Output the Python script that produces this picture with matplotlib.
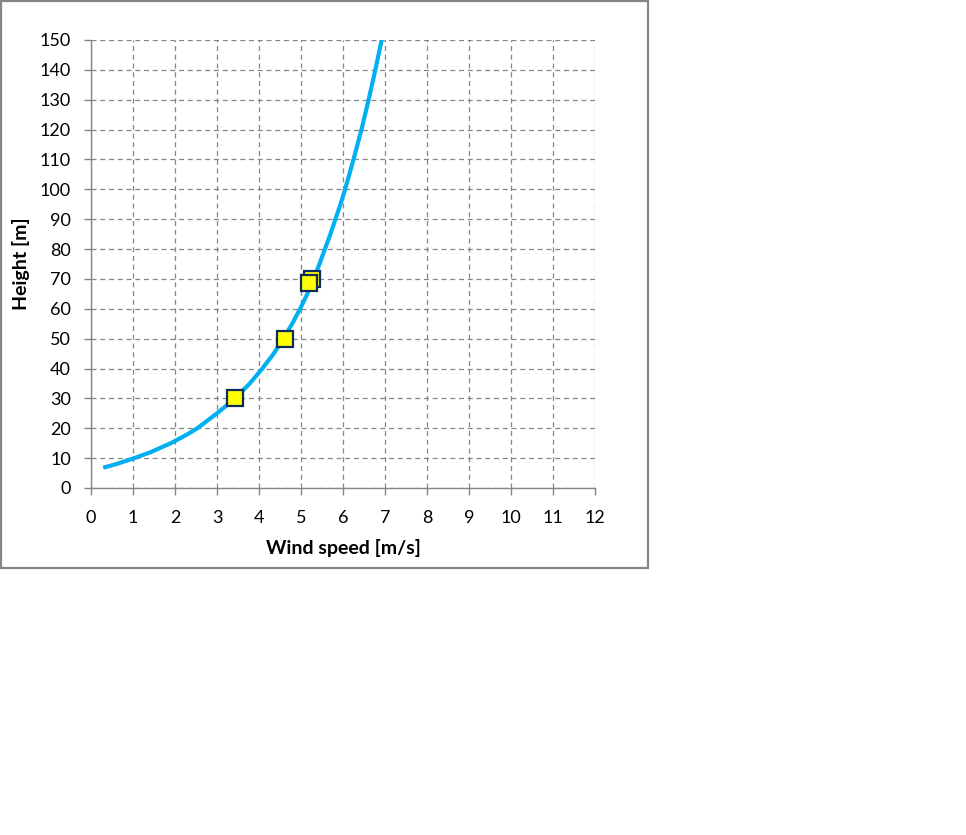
import matplotlib
matplotlib.use("Agg")
import matplotlib.pyplot as plt
from matplotlib.patches import Rectangle

plt.rcParams['font.family'] = ['Lato', 'DejaVu Sans']

# wind profile curve: height [m] -> wind speed [m/s]
profile_height = [6.8, 8, 10, 12, 15, 18, 20, 25, 30, 35, 40, 45, 50, 55, 60,
                  65, 70, 75, 80, 85, 90, 95, 100, 110, 120, 130, 140, 150]
profile_speed = [0.29, 0.6, 1.03, 1.42, 1.9, 2.3, 2.53, 3.0, 3.43, 3.78, 4.08,
                 4.35, 4.58, 4.79, 4.98, 5.15, 5.3, 5.44, 5.57, 5.7, 5.82,
                 5.94, 6.05, 6.25, 6.44, 6.61, 6.77, 6.92]

# measured points (yellow squares)
meas_speed = [3.43, 4.63, 5.27, 5.19]
meas_height = [30, 50, 70, 68.7]

x_ticks = list(range(0, 13))
y_ticks = list(range(0, 151, 10))

grey = '#868686'

fig = plt.figure(figsize=(9.66, 8.35), dpi=100)
ax = fig.add_axes([91 / 966, 1 - 488 / 835, 504 / 966, 448 / 835])

ax.plot(profile_speed, profile_height, color='#00B0F0', lw=3,
        solid_capstyle='butt', solid_joinstyle='round', zorder=3)
ax.plot(meas_speed, meas_height, ls='none', marker='s', ms=11.5,
        mfc='#FFFF00', mec='#0E2A5E', mew=1.6, zorder=4)

ax.set_xlim(0, 12)
ax.set_ylim(0, 150)
ax.set_xticks(x_ticks)
ax.set_yticks(y_ticks)
ax.grid(True, color=grey, ls=(0, (4, 3)), lw=0.9)
ax.set_axisbelow(True)

for s in ['top', 'right']:
    ax.spines[s].set_visible(False)
for s in ['left', 'bottom']:
    ax.spines[s].set_color(grey)
    ax.spines[s].set_linewidth(1.0)
ax.tick_params(direction='out', length=5, width=1, color=grey,
               labelsize=13)
ax.tick_params(axis='y', pad=9.5)
ax.tick_params(axis='x', pad=11)

ax.set_xlabel('Wind speed [m/s]', fontsize=14, fontweight='bold', labelpad=9)
ax.set_ylabel('Height [m]', fontsize=14, fontweight='bold', labelpad=7)

# chart area frame
fig.patches.append(Rectangle((1 / 966, 1 - 568 / 835), 647 / 966, 567 / 835,
                             transform=fig.transFigure, fill=False,
                             edgecolor='#868686', lw=1.6))

fig.savefig('out.png', dpi=100, facecolor='white')
